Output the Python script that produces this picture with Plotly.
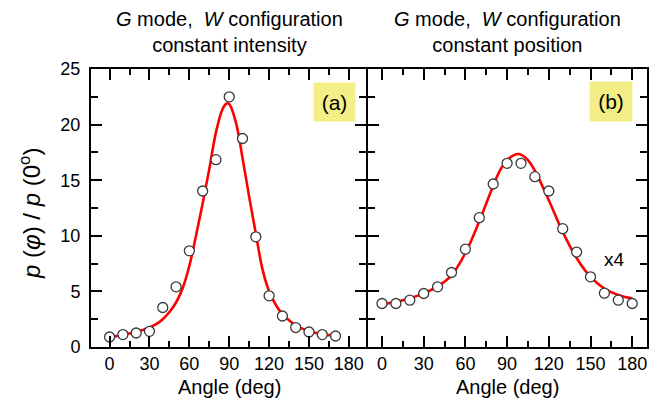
import plotly.graph_objects as go

# ---- data ----
angles_a = [0, 10, 20, 30, 40, 50, 60, 70, 80, 90, 100, 110, 120, 130, 140, 150, 160, 170]
ratio_a = [0.90, 1.12, 1.26, 1.41, 3.55, 5.41, 8.65, 14.03, 16.85, 22.5, 18.75, 9.91, 4.60, 2.79, 1.75, 1.35, 1.12, 0.99]

fit_angles_a = [0, 5, 10, 15, 20, 25, 30, 35, 40, 45, 50, 55, 60, 65, 70, 75, 80, 85, 88, 90,
                95, 100, 105, 110, 115, 120, 125, 130, 135, 140, 145, 150, 155, 160, 165, 170]
fit_ratio_a = [0.88, 0.98, 1.10, 1.22, 1.36, 1.52, 1.75, 2.05, 2.5, 3.15, 4.0, 5.3, 7.3, 10.0, 12.9, 16.0, 19.3, 21.4, 21.9, 21.85,
               20.2, 17.0, 13.5, 10.2, 7.0, 5.0, 3.8, 2.95, 2.4, 1.93, 1.65, 1.42, 1.27, 1.14, 1.07, 1.02]

angles_b = [0, 10, 20, 30, 40, 50, 60, 70, 80, 90, 100, 110, 120, 130, 140, 150, 160, 170, 180]
ratio_b = [3.91, 3.91, 4.21, 4.81, 5.41, 6.70, 8.80, 11.63, 14.66, 16.52, 16.52, 15.32, 14.03, 10.64, 8.54, 6.31, 4.84, 4.21, 3.91]

fit_angles_b = [0, 10, 20, 30, 40, 50, 60, 70, 80, 85, 90, 95, 98, 100, 105, 110, 120, 130, 140, 150, 160, 170, 180]
fit_ratio_b = [3.85, 4.05, 4.38, 4.82, 5.45, 6.45, 8.45, 11.3, 14.5, 15.9, 16.8, 17.25, 17.36, 17.3, 16.8, 15.85, 13.2, 10.35, 8.0, 6.3, 5.25, 4.67, 4.35]

x_ticks = [0, 30, 60, 90, 120, 150, 180]
y_ticks = [0, 5, 10, 15, 20, 25]

titles = ["<i>G</i> mode,  <i>W</i> configuration<br>constant intensity",
          "<i>G</i> mode,  <i>W</i> configuration<br>constant position"]
panel_labels = ["(a)", "(b)"]

FONT = "Liberation Sans, Arial, sans-serif"
RED = "#ff0000"
YELLOW = "#f3ef86"

fig = go.Figure()

fig.add_trace(go.Scatter(x=fit_angles_a, y=fit_ratio_a, mode="lines", line=dict(color=RED, width=2.6, shape="spline"),
                         xaxis="x", yaxis="y", showlegend=False, hoverinfo="skip"))
fig.add_trace(go.Scatter(x=angles_a, y=ratio_a, mode="markers",
                         marker=dict(symbol="circle", size=10, color="white", line=dict(color="#3a3a3a", width=1.3)),
                         xaxis="x", yaxis="y", showlegend=False))
fig.add_trace(go.Scatter(x=fit_angles_b, y=fit_ratio_b, mode="lines", line=dict(color=RED, width=2.6, shape="spline"),
                         xaxis="x2", yaxis="y2", showlegend=False, hoverinfo="skip"))
fig.add_trace(go.Scatter(x=angles_b, y=ratio_b, mode="markers",
                         marker=dict(symbol="circle", size=10, color="white", line=dict(color="#3a3a3a", width=1.3)),
                         xaxis="x2", yaxis="y2", showlegend=False))

left_end = (366 - 91) / 556
right_start = (368 - 91) / 556

axis_common = dict(showline=True, linecolor="black", linewidth=2, mirror="allticks",
                   ticks="inside", ticklen=11, tickwidth=2, tickcolor="black",
                   showgrid=False, zeroline=False,
                   tickfont=dict(family=FONT, size=18, color="black"))

fig.update_layout(
    width=670, height=412,
    margin=dict(l=91, r=23, t=69, b=65),
    paper_bgcolor="white", plot_bgcolor="white",
    font=dict(family=FONT, color="black"),
    xaxis=dict(domain=[0, left_end], range=[-14, 192.9], tickvals=x_ticks, anchor="y",
               minor=dict(dtick=15, tick0=0, ticklen=6, tickwidth=2, ticks="inside", tickcolor="black"),
               ticklabelstandoff=-1, **axis_common),
    yaxis=dict(domain=[0, 1], range=[0, 25], tickvals=y_ticks, anchor="x",
               minor=dict(dtick=2.5, tick0=0, ticklen=7, tickwidth=2, ticks="inside", tickcolor="black"),
               ticklabelstandoff=5, **axis_common),
    xaxis2=dict(domain=[right_start, 1], range=[-10.07, 190.65], tickvals=x_ticks, anchor="y2",
                minor=dict(dtick=15, tick0=0, ticklen=6, tickwidth=2, ticks="inside", tickcolor="black"),
                ticklabelstandoff=-1, **axis_common),
    yaxis2=dict(domain=[0, 1], range=[0, 25], tickvals=y_ticks, anchor="x2", showticklabels=False,
                minor=dict(dtick=2.5, tick0=0, ticklen=7, tickwidth=2, ticks="inside", tickcolor="black"),
                **axis_common),
)

ann = []
centers = [(91 + 367) / 2, (367 + 647) / 2]
for c, t in zip(centers, titles):
    ann.append(dict(text=t, xref="paper", yref="paper", x=(c - 91) / 556, y=(347 - 32) / 278,
                    xanchor="center", yanchor="middle", showarrow=False, align="center",
                    font=dict(family=FONT, size=20, color="black")))
    ann.append(dict(text="Angle (deg)", xref="paper", yref="paper", x=(c - 91) / 556, y=(347 - 387) / 278,
                    xanchor="center", yanchor="middle", showarrow=False,
                    font=dict(family=FONT, size=20, color="black")))

ann.append(dict(text=panel_labels[0], xref="x", yref="y", x=169.3, y=22.05, showarrow=False,
                bgcolor=YELLOW, width=41, height=38, borderpad=0, xanchor="center", yanchor="middle",
                font=dict(family=FONT, size=21, color="black")))
ann.append(dict(text=panel_labels[1], xref="x2", yref="y2", x=165, y=22.1, showarrow=False,
                bgcolor=YELLOW, width=42, height=39, borderpad=0, xanchor="center", yanchor="middle",
                font=dict(family=FONT, size=21, color="black")))
ann.append(dict(text="x4", xref="x2", yref="y2", x=167.6, y=7.9, showarrow=False,
                xanchor="center", yanchor="middle", font=dict(family=FONT, size=19, color="black")))
ann.append(dict(text="<i>p</i> (<i>φ</i>) / <i>p</i> (0<sup>o</sup>)", xref="paper", yref="paper",
                x=(30 - 91) / 556, y=(347 - 214) / 278, textangle=-90, showarrow=False,
                xanchor="center", yanchor="middle", font=dict(family=FONT, size=24, color="black")))

fig.update_layout(annotations=ann)
fig.write_html("out.html", config={"displayModeBar": False},
               post_script="document.body.style.margin='0';")
